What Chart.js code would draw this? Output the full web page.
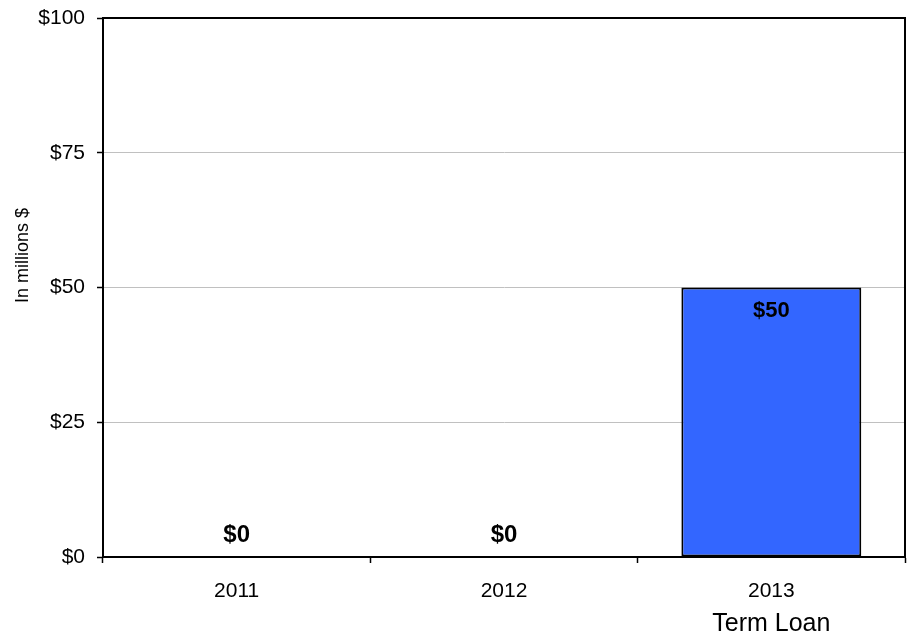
<!DOCTYPE html>
<html>
<head>
<meta charset="utf-8">
<script src="https://cdn.jsdelivr.net/npm/chart.js@4/dist/chart.umd.min.js"></script>
<style>
  html, body { margin: 0; padding: 0; background: #fff; }
  #wrap { width: 915px; height: 639px; }
</style>
</head>
<body>
<div id="wrap"><canvas id="loanChart" width="915" height="639"></canvas></div>
<script>
// --- Data ---
const years = ['2011', '2012', '2013'];
const termLoan = [0, 0, 50];
const yTicks = [0, 25, 50, 75, 100];
const seriesName = 'Term Loan';
const axisTitle = 'In millions $';

const FONT = "Arial, 'Liberation Sans', sans-serif";

// value labels on bars + frame + axis / series captions
const extrasPlugin = {
  id: 'extras',
  afterDatasetsDraw(chart) {
    const { ctx, chartArea: a } = chart;
    const meta = chart.getDatasetMeta(0);
    ctx.save();
    ctx.fillStyle = '#000';
    ctx.textAlign = 'center';
    ctx.textBaseline = 'middle';
    meta.data.forEach((bar, i) => {
      const v = termLoan[i];
      if (v === 0) {
        ctx.font = `bold 24px ${FONT}`;
        ctx.fillText('$' + v, bar.x, bar.base - 22);
      } else {
        ctx.font = `bold 22px ${FONT}`;
        ctx.fillText('$' + v, bar.x, bar.y + 23);
      }
    });

    // top / right frame
    ctx.strokeStyle = '#000';
    ctx.lineWidth = 2;
    ctx.beginPath();
    ctx.moveTo(a.left, a.top);
    ctx.lineTo(a.right, a.top);
    ctx.lineTo(a.right, a.bottom);
    ctx.stroke();

    // series name under last category
    const last = meta.data[meta.data.length - 1];
    ctx.font = `25px ${FONT}`;
    ctx.fillText(seriesName, last.x, 624);

    // rotated y-axis caption
    ctx.translate(23, (a.top + a.bottom) / 2 - 32);
    ctx.rotate(-Math.PI / 2);
    ctx.font = `18px ${FONT}`;
    ctx.fillText(axisTitle, 0, 0);
    ctx.restore();
  }
};

const ctx = document.getElementById('loanChart');
const loanChart = new Chart(ctx, {
  type: 'bar',
  data: {
    labels: years,
    datasets: [{
      label: seriesName,
      data: termLoan,
      backgroundColor: '#3366ff',
      borderColor: '#000',
      borderWidth: 2,
      borderSkipped: false,
      barPercentage: 0.673,
      categoryPercentage: 1
    }]
  },
  options: {
    responsive: false,
    animation: false,
    layout: { padding: { left: 0, top: 18, right: 10, bottom: 0 } },
    plugins: {
      legend: { display: false },
      tooltip: { enabled: false }
    },
    scales: {
      x: {
        offset: true,
        grid: {
          offset: true,
          drawOnChartArea: false,
          drawTicks: true,
          tickLength: 6,
          tickColor: '#000',
          tickWidth: 1.5
        },
        border: { color: '#000', width: 2 },
        ticks: { color: '#000', font: { family: FONT, size: 21 }, padding: 16 },
        afterFit: s => { s.height = 82; }
      },
      y: {
        min: 0,
        max: 100,
        afterBuildTicks: s => { s.ticks = yTicks.map(v => ({ value: v })); },
        grid: {
          color: '#c0c0c0',
          lineWidth: 1,
          tickLength: 6,
          tickColor: '#000',
          tickWidth: 1.5
        },
        border: { color: '#000', width: 2 },
        ticks: {
          color: '#000',
          font: { family: FONT, size: 21 },
          padding: 12,
          callback: v => '$' + v
        },
        afterFit: s => {
          s.width = 103;
          s.paddingTop = 0;
          s.paddingBottom = 0;
        }
      }
    }
  },
  plugins: [extrasPlugin]
});
</script>
</body>
</html>
